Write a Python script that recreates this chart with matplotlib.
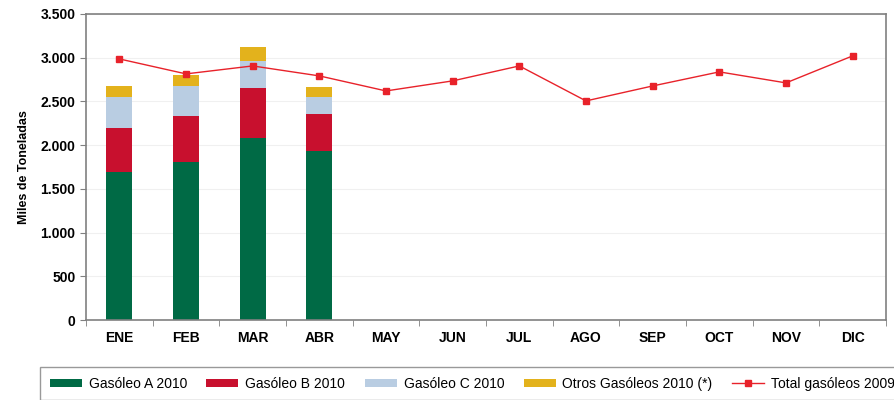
import numpy as np
import matplotlib.pyplot as plt
from matplotlib.ticker import FuncFormatter, FixedLocator

plt.rcParams['font.family'] = ['Liberation Sans', 'DejaVu Sans']

meses = ['ENE', 'FEB', 'MAR', 'ABR', 'MAY', 'JUN', 'JUL', 'AGO', 'SEP', 'OCT', 'NOV', 'DIC']

# datos 2010 (solo hasta abril)
gasoleo_a = [1693, 1808, 2082, 1934]
gasoleo_b = [504, 526, 572, 423]
gasoleo_c = [354, 343, 309, 194]
otros = [126, 126, 161, 115]

# total 2009
total_2009 = [2986, 2815, 2906, 2792, 2620, 2735, 2906, 2506, 2677, 2838, 2712, 3021]

x = np.arange(len(meses))
xb = x[:len(gasoleo_a)]

fig = plt.figure(figsize=(8.94, 4.0), dpi=100)
ax = fig.add_axes([86/894, 80/400, 800/894, 306/400])

w = 0.39
a = np.array(gasoleo_a)
b = np.array(gasoleo_b)
c = np.array(gasoleo_c)
o = np.array(otros)
ax.bar(xb, a, w, color='#006A45', label='Gasóleo A 2010', zorder=2)
ax.bar(xb, b, w, bottom=a, color='#C8102E', label='Gasóleo B 2010', zorder=2)
ax.bar(xb, c, w, bottom=a + b, color='#B9CDE2', label='Gasóleo C 2010', zorder=2)
ax.bar(xb, o, w, bottom=a + b + c, color='#E3B21C', label='Otros Gasóleos 2010 (*)', zorder=2)
ax.plot(x, total_2009, color='#E8222A', lw=1, marker='s', ms=4, label='Total gasóleos 2009', zorder=3)

ax.set_xlim(-0.5, len(meses) - 0.5)
ax.set_ylim(0, 3500)
ax.set_yticks(np.arange(0, 3501, 500))
ax.yaxis.set_major_formatter(FuncFormatter(lambda v, p: f'{int(v):,}'.replace(',', '.')))
ax.set_xticks(x)
ax.set_xticklabels(meses, fontweight='bold', fontsize=10)
ax.xaxis.set_minor_locator(FixedLocator(np.arange(-0.5, len(meses), 1)))
ax.tick_params(axis='x', which='major', length=0, pad=8)
ax.tick_params(axis='x', which='minor', length=4, color='#808080')
ax.tick_params(axis='y', length=4, color='#808080', labelsize=10)
for t in ax.get_yticklabels():
    t.set_fontweight('bold')
ax.set_ylabel('Miles de Toneladas', fontweight='bold', fontsize=9)
ax.yaxis.set_label_coords(-0.07, 0.5)
ax.grid(axis='y', color='#F0F0F0', lw=0.8, zorder=0)
for s in ax.spines.values():
    s.set_color('#808080')
    s.set_linewidth(1.2)

handles, labels = ax.get_legend_handles_labels()
orden = [1, 2, 3, 4, 0]
fig.legend([handles[i] for i in orden], [labels[i] for i in orden],
           loc='upper left', bbox_to_anchor=(40/894, 1 - 367/400), ncol=5, fontsize=10,
           frameon=True, fancybox=False, edgecolor='#808080', handlelength=2.3,
           handleheight=0.5, columnspacing=1.4, borderpad=0.7, handletextpad=0.5,
           borderaxespad=0)

fig.savefig('out.png', dpi=100)
